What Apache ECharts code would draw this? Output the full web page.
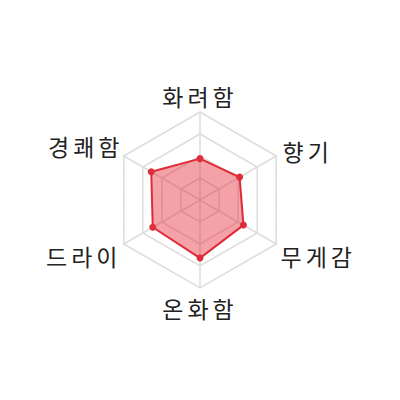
<!DOCTYPE html>
<html><head><meta charset="utf-8">
<script src="https://cdn.jsdelivr.net/npm/echarts@6/dist/echarts.min.js"></script>
<style>html,body{margin:0;padding:0;background:#fff}#c{width:400px;height:400px}#c text{letter-spacing:4px}</style>
</head><body><div id="c"></div>
<script>
// clockwise from top: 화려함, 향기, 무게감, 온화함, 드라이, 경쾌함
const indicators = ['화려함', '경쾌함', '드라이', '온화함', '무게감', '향기'];
const maxValue = 100;
const values = [47, 64, 62, 66, 57, 52];

// label nudges (style only), keyed by indicator position
const labelKeys = ['t', 'ul', 'll', 'b', 'lr', 'ur'];

const chart = echarts.init(document.getElementById('c'), null, {renderer: 'svg'});
chart.setOption({
  animation: false,
  radar: {
    center: ['50%', '50%'],
    radius: 88,
    startAngle: 90,
    splitNumber: 4,
    shape: 'polygon',
    indicator: indicators.map(n => ({name: n, max: maxValue})),
    nameGap: 5,
    axisName: {
      color: '#222',
      fontSize: 23,
      fontFamily: 'Noto Sans CJK KR',
      formatter: function (name) {
        const k = labelKeys[indicators.indexOf(name)];
        return '{' + k + '|' + name + '}';
      },
      rich: {
        t: {},
        ul: {padding: [0, -4, 16, 0]},
        ll: {padding: [18, -2, 0, 0]},
        b: {padding: [3, 0, 0, 0]},
        lr: {padding: [18, 0, 0, 0]},
        ur: {padding: [0, 0, 6, 2]}
      }
    },
    splitLine: {lineStyle: {color: '#dddddd', width: 1.5}},
    splitArea: {show: false},
    axisLine: {lineStyle: {color: '#dddddd', width: 1.5}},
    axisTick: {show: false},
    axisLabel: {show: false}
  },
  series: [{
    type: 'radar',
    symbol: 'circle',
    symbolSize: 7,
    data: [{value: values}],
    lineStyle: {color: '#dd2f3b', width: 2},
    itemStyle: {color: '#dd2f3b'},
    areaStyle: {color: 'rgba(228,30,45,0.6)'}
  }]
});
</script></body></html>
